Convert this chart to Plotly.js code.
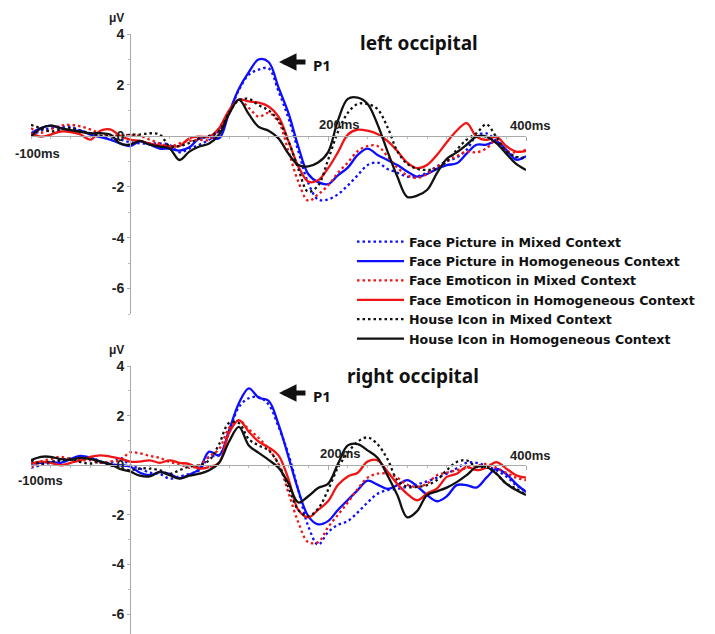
<!DOCTYPE html>
<html>
<head>
<meta charset="utf-8">
<script src="https://cdn.plot.ly/plotly-3.0.1.min.js"></script>
<style>html,body{margin:0;padding:0;background:#fff}#chart{width:715px;height:634px}</style>
</head>
<body>
<div id="chart"></div>
<script>
// time axis (ms)
const timeMs = [-100,-90,-80,-70,-60,-50,-40,-30,-20,-10,0,10,20,30,40,50,60,70,80,90,100,110,120,130,140,150,160,170,180,190,200,210,220,230,240,250,260,270,280,290,300,310,320,330,340,350,360,370,380,390,400];

const seriesNames = [
  "Face Picture in Mixed Context",
  "Face Picture in Homogeneous Context",
  "Face Emoticon in Mixed Context",
  "Face Emoticon in Homogeneous Context",
  "House Icon in Mixed Context",
  "House Icon in Homogeneous Context"
];

// left occipital (µV)
const leftFacePicMixed = [0,0.2,0.3,0.35,0.35,0.2,0.1,0,-0.1,-0.15,-0.25,-0.3,-0.3,-0.3,-0.35,-0.65,-0.5,-0.35,-0.15,0.2,0.9,1.8,2.4,2.6,2.65,1.75,0.7,-0.6,-1.85,-2.5,-2.5,-2.3,-1.95,-1.55,-1.15,-1.05,-1.3,-1.45,-1.6,-1.6,-1.45,-1.2,-1.0,-0.85,-0.55,0.0,0.1,-0.2,-0.6,-0.85,-0.9];
const leftFacePicHomog = [0.1,0.3,0.4,0.3,0.2,0.2,0.05,-0.05,-0.15,-0.3,-0.4,-0.22,-0.35,-0.5,-0.5,-0.58,-0.45,-0.1,-0.05,-0.1,0.9,1.85,2.5,3.0,2.9,1.9,0.9,-0.42,-1.5,-1.82,-1.9,-1.55,-1.25,-0.75,-0.5,-0.75,-0.95,-1.15,-1.4,-1.6,-1.5,-1.3,-1.15,-1.08,-0.7,-0.35,-0.35,-0.22,-0.55,-0.94,-0.8];
const leftEmoMixed = [0.3,0.12,0.25,0.4,0.43,0.37,0.25,0.1,0.02,0,0.04,0,-0.15,-0.3,-0.42,-0.3,-0.2,-0.16,-0.16,0.3,0.95,1.4,1.1,0.75,0.9,0.55,-0.6,-1.8,-2.55,-2.3,-1.95,-1.45,-1.05,-0.6,-0.4,-0.4,-0.8,-1.25,-1.55,-1.65,-1.5,-1.21,-1.0,-0.8,-0.62,-0.65,-0.5,-0.16,-0.58,-0.65,-0.55];
const leftEmoHomog = [0.1,-0.03,0.05,0.17,0.15,0.05,-0.15,0.2,0.25,0,-0.15,-0.2,-0.3,-0.38,-0.42,-0.4,-0.1,-0.03,-0.03,0.3,1.0,1.42,1.35,1.3,1.15,0.75,-0.2,-1.2,-1.8,-1.75,-1.28,-0.65,0.05,0.24,0.2,0.07,-0.2,-0.6,-1.05,-1.27,-1.15,-0.75,-0.25,0.2,0.5,-0.03,-0.16,-0.03,-0.4,-0.62,-0.6];
const leftHouseMixed = [0.43,0.3,0.17,0.25,0.3,0.2,0.1,0,0,0,0.04,0.05,0.1,0.05,-0.4,-0.4,-0.28,-0.1,0,0.2,0.9,1.4,1.45,1.2,1.0,0.6,-0.2,-1.3,-2.2,-1.95,-0.95,0.15,0.9,1.25,1.25,1.05,0.35,-0.6,-1.1,-1.3,-1.34,-1.3,-1.0,-0.55,-0.15,0.1,0.45,-0.05,-0.6,-0.82,-0.86];
const leftHouseHomog = [-0.03,0.3,0.4,0.3,0.22,0.15,0.1,0.1,0.05,-0.3,-0.35,-0.2,-0.35,-0.42,-0.5,-0.95,-0.62,-0.42,-0.3,0.05,0.85,1.42,0.85,0.35,0.2,-0.1,-0.7,-1.15,-1.2,-1.05,-0.65,0.6,1.45,1.5,1.25,0.45,-0.6,-1.6,-2.4,-2.35,-2.13,-1.47,-0.9,-0.65,-0.35,-0.03,-0.03,-0.29,-0.7,-1.1,-1.34];

// right occipital (µV)
const rightFacePicMixed = [-0.1,0,0.1,0.2,0.25,0.3,0.34,0.15,0.1,0.3,0,-0.13,-0.3,-0.35,-0.54,-0.45,-0.35,-0.2,0.34,0.4,1.3,2.35,2.7,2.75,2.45,1.55,0.45,-1.0,-2.45,-3.2,-2.7,-2.4,-2.25,-1.9,-1.5,-1.15,-1.0,-0.95,-0.87,-0.77,-0.65,-0.5,-0.34,-0.12,0.1,0.1,-0.03,-0.2,-0.45,-0.8,-1.05];
const rightFacePicHomog = [0.07,0.1,0.13,0.1,0.25,0.38,0.3,0.15,0.05,0,-0.05,-0.3,-0.4,-0.28,-0.35,-0.52,-0.38,-0.15,0.55,0.4,1.4,2.5,3.1,2.72,2.6,1.65,0.35,-1.0,-2.05,-2.38,-2.25,-1.8,-1.4,-1.0,-0.62,-0.78,-0.95,-0.8,-0.6,-0.85,-1.2,-1.45,-1.25,-0.8,-0.8,-0.9,-0.5,-0.15,-0.35,-0.75,-1.08];
const rightEmoMixed = [-0.1,0.15,0.25,0.34,0.25,0.2,0.2,0.1,0.15,0.2,0.52,0.48,0.38,0.3,0.13,0.05,-0.1,0,0.35,0.65,1.5,1.8,1.45,1.1,0.65,0.05,-1.1,-2.3,-3.1,-3.1,-2.5,-2.0,-1.5,-0.95,-0.5,-0.34,-0.34,-0.5,-0.78,-0.87,-0.74,-0.4,-0.3,-0.2,-0.12,-0.03,0.05,-0.1,-0.3,-0.5,-0.6];
const rightEmoHomog = [0.07,0.15,0.1,0,0.1,0.2,0.34,0.4,0.35,0.27,0.15,0.15,0.2,0.1,0.2,0.1,0.05,-0.13,-0.07,0.1,1.3,1.82,1.35,0.95,0.72,0.4,-0.55,-1.8,-2.1,-1.8,-1.45,-0.8,-0.45,-0.3,0.15,0.2,-0.25,-0.75,-1.15,-1.41,-1.14,-0.94,-0.47,-0.34,-0.07,-0.2,-0.1,0.13,-0.13,-0.4,-0.5];
const rightHouseMixed = [0.2,0.07,0.15,0.2,0.27,0.13,0.07,0.13,0,-0.1,-0.2,-0.13,-0.13,-0.2,-0.35,-0.2,-0.05,0,0.2,0.85,1.7,1.7,1.05,0.8,0.6,0.05,-0.9,-1.8,-2.05,-1.75,-1.0,-0.1,0.5,0.95,1.12,0.85,0.25,-0.6,-0.87,-0.87,-0.8,-0.6,-0.2,0.13,0.2,-0.07,-0.07,-0.34,-0.74,-0.94,-1.2];
const rightHouseHomog = [0.2,0.34,0.34,0.25,0.22,0.3,0.25,0.15,0.05,-0.15,-0.25,-0.42,-0.45,-0.27,-0.4,-0.54,-0.42,-0.34,-0.2,0.1,0.95,1.55,0.8,0.5,0.22,-0.1,-0.72,-1.5,-1.25,-0.92,-0.75,0.05,0.8,0.85,0.6,0.3,-0.4,-1.2,-2.1,-1.85,-1.2,-1.05,-0.9,-0.68,-0.4,-0.07,-0.07,-0.34,-0.74,-1.0,-1.2];

const colors = ["#0d0dff","#0d0dff","#f01414","#f01414","#111111","#111111"];
const dashes = ["2.5px,3px","solid","2.5px,3px","solid","2.5px,3px","solid"];

const leftSeries = [leftFacePicMixed,leftFacePicHomog,leftEmoMixed,leftEmoHomog,leftHouseMixed,leftHouseHomog];
const rightSeries = [rightFacePicMixed,rightFacePicHomog,rightEmoMixed,rightEmoHomog,rightHouseMixed,rightHouseHomog];

const traces = [];
leftSeries.forEach((vals,i)=>{
  traces.push({x:timeMs,y:vals,name:seriesNames[i],type:'scatter',mode:'lines',
    xaxis:'x',yaxis:'y',
    line:{color:colors[i],width:2.3,dash:dashes[i],shape:'spline',smoothing:1},
    showlegend:true,hoverinfo:'skip'});
});
rightSeries.forEach((vals,i)=>{
  traces.push({x:timeMs,y:vals,name:seriesNames[i],type:'scatter',mode:'lines',
    xaxis:'x2',yaxis:'y2',
    line:{color:colors[i],width:2.3,dash:dashes[i],shape:'spline',smoothing:1},
    showlegend:false,hoverinfo:'skip'});
});

const W=715,H=634;
const px = v=>v/W, py = v=>1-v/H;
const tickFont = {family:'"Liberation Sans", Arial, sans-serif',size:14,color:'#222',weight:'bold'};
const lblFont = {family:'"Liberation Sans", Arial, sans-serif',size:13,color:'#222',weight:'bold'};
const muFont = {family:'"Liberation Sans", Arial, sans-serif',size:12,color:'#222',weight:'bold'};
const titleFont = {family:'"Noto Sans", "Open Sans", sans-serif',size:19,color:'#111',weight:'bold'};
const p1Font = {family:'"Noto Sans", sans-serif',size:15,color:'#111',weight:'bold'};

const xDomain=[px(31),px(526)];
const yTopDomain=[1-314/H,1-34/H];
const yBotDomain=[0,1-366/H];
const yAxisPos = px(130);
const topZero = yTopDomain[0] + 7/11*(yTopDomain[1]-yTopDomain[0]);
const botZero = yBotDomain[0] + 6.8/10.8*(yBotDomain[1]-yBotDomain[0]);

function xAx(pos){
  return {domain:xDomain,range:[-100,400],anchor:'free',position:pos,
    showgrid:false,zeroline:false,showline:true,linecolor:'#aaaaaa',linewidth:1,
    ticks:'outside',tickvals:[0,200,400],ticklen:4,tickcolor:'#aaaaaa',showticklabels:false,
    minor:{dtick:20,tick0:0,ticks:'outside',ticklen:2,tickcolor:'#bbbbbb'},fixedrange:true};
}
function yAx(dom,rng){
  return {domain:dom,range:rng,anchor:'free',position:yAxisPos,showgrid:false,zeroline:false,
    showline:true,linecolor:'#aaaaaa',linewidth:1,ticks:'outside',ticklen:3,tickcolor:'#aaaaaa',
    tickvals:[-6,-4,-2,0,2,4],ticktext:['-6','-4','-2','0','2','4'],tickfont:tickFont,
    minor:{dtick:1,ticks:'outside',ticklen:2,tickcolor:'#bbbbbb'},fixedrange:true};
}
function lbl(x,y,text,font){
  return {xref:'paper',yref:'paper',x:px(x),y:py(y),xanchor:'center',yanchor:'middle',text:text,showarrow:false,font:font};
}

const annotations = [
  lbl(116,18,'μV',muFont),
  lbl(116,350,'μV',muFont),
  lbl(419,43,'left occipital',titleFont),
  lbl(413,376,'right occipital',titleFont),
  lbl(37,153,'-100ms',lblFont),
  lbl(339,124,'200ms',lblFont),
  lbl(530,126,'400ms',lblFont),
  lbl(40,480,'-100ms',lblFont),
  lbl(340,453,'200ms',lblFont),
  lbl(530,455,'400ms',lblFont),
  lbl(322,65,'P1',p1Font),
  lbl(322,396,'P1',p1Font),
  {xref:'paper',yref:'paper',x:px(279),y:py(62),ax:28,ay:0,text:'',showarrow:true,arrowhead:2,arrowsize:0.7,arrowwidth:5,arrowcolor:'#111'},
  {xref:'paper',yref:'paper',x:px(279),y:py(393),ax:28,ay:0,text:'',showarrow:true,arrowhead:2,arrowsize:0.7,arrowwidth:5,arrowcolor:'#111'}
];

const layout = {
  width:W,height:H,margin:{l:0,r:0,t:0,b:0},paper_bgcolor:'#fff',plot_bgcolor:'rgba(0,0,0,0)',
  xaxis:xAx(topZero),
  xaxis2:xAx(botZero),
  yaxis:yAx(yTopDomain,[-7,4]),
  yaxis2:yAx(yBotDomain,[-6.8,4]),
  showlegend:true,
  legend:{x:px(352),y:py(227),xanchor:'left',yanchor:'top',bgcolor:'rgba(255,255,255,0)',
    font:{family:'"DejaVu Sans", sans-serif',size:12.6,color:'#111',weight:'bold'},
    itemwidth:47,tracegroupgap:0},
  annotations:annotations
};

Plotly.newPlot('chart',traces,layout,{displayModeBar:false,staticPlot:true});
</script>
</body>
</html>
